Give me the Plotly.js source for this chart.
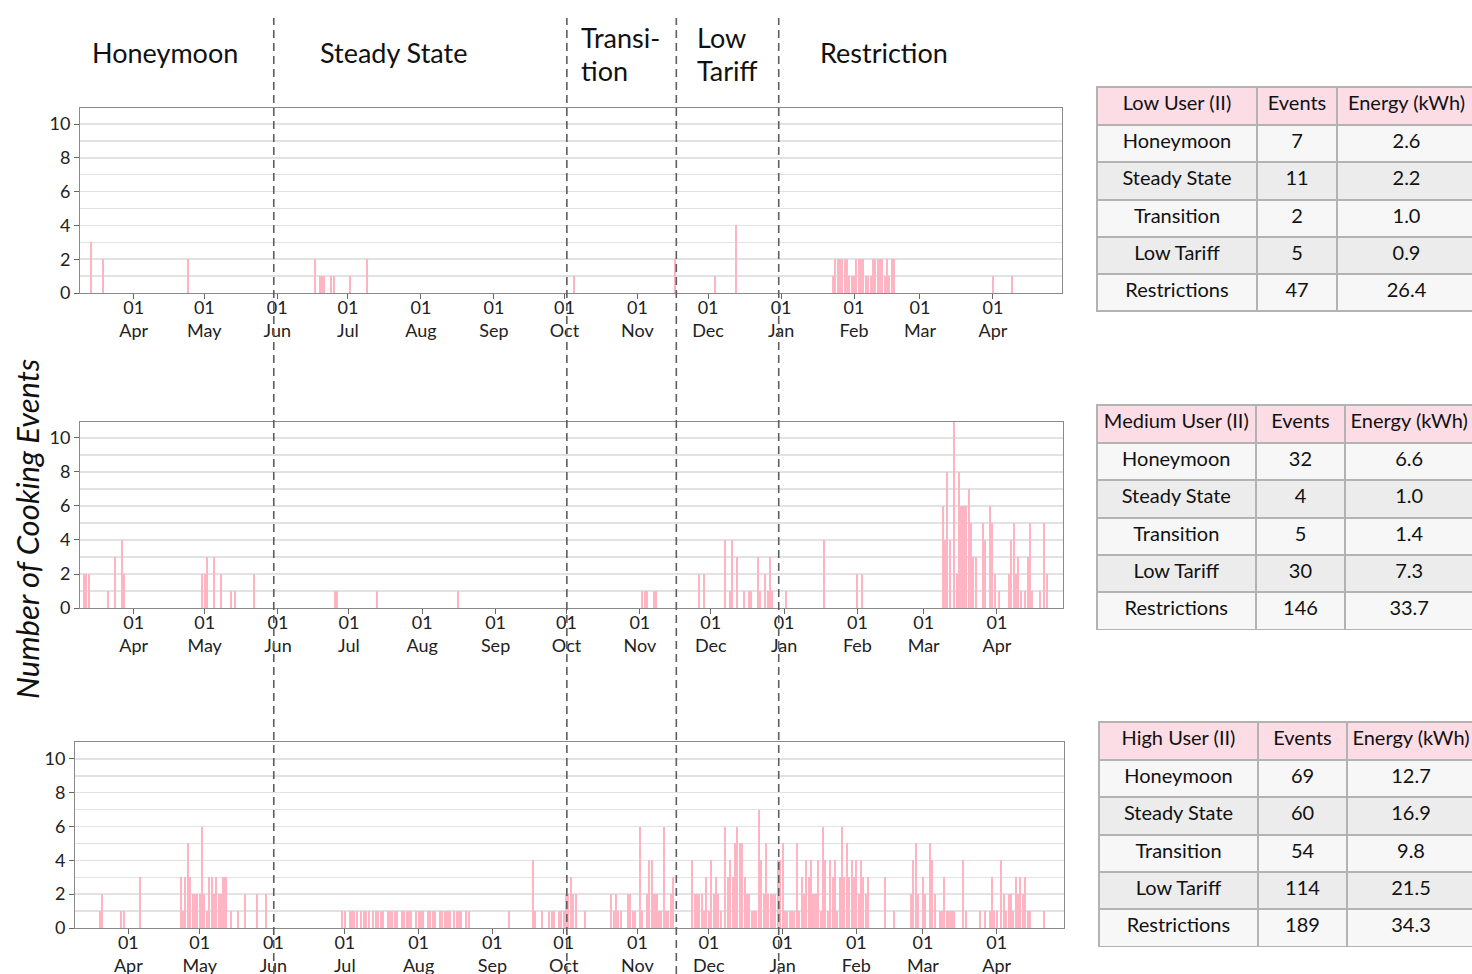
<!DOCTYPE html>
<html>
<head>
<meta charset="utf-8">
<script src="https://cdn.plot.ly/plotly-3.0.1.min.js"></script>
<style>html,body{margin:0;padding:0;background:#fff;overflow:hidden;}#wrap{width:1472px;height:974px;overflow:hidden;position:relative;}</style>
</head>
<body>
<div id="wrap"><div id="chart"></div></div>
<script>
// ---------- Table data ----------
const phases = ['Honeymoon', 'Steady State', 'Transition', 'Low Tariff', 'Restrictions'];
const lowEvents = [7, 11, 2, 5, 47];
const lowEnergy = [2.6, 2.2, 1.0, 0.9, 26.4];
const medEvents = [32, 4, 5, 30, 146];
const medEnergy = [6.6, 1.0, 1.4, 7.3, 33.7];
const highEvents = [69, 60, 54, 114, 189];
const highEnergy = [12.7, 16.9, 9.8, 21.5, 34.3];
const tableHeaders = [['Low User (II)', 'Events', 'Energy (kWh)'],
                      ['Medium User (II)', 'Events', 'Energy (kWh)'],
                      ['High User (II)', 'Events', 'Energy (kWh)']];

// ---------- Phase annotations ----------
const phaseTitles = ['Honeymoon', 'Steady State', 'Transi-<br>tion', 'Low<br>Tariff', 'Restriction'];
const phaseBoundaries = ['2022-05-30 12:00', '2022-10-02', '2022-11-17 12:00', '2022-12-31'];
const yTitle = 'Number of Cooking Events';

// ---------- Daily cooking events (days with events only) ----------
const lowDates = ['2022-03-14','2022-03-19','2022-04-24','2022-06-17','2022-06-19','2022-06-20','2022-06-21','2022-06-24','2022-06-25','2022-07-02','2022-07-09',
  '2022-10-05','2022-11-17','2022-12-04','2022-12-13',
  '2023-01-23','2023-01-24','2023-01-25','2023-01-26','2023-01-27','2023-01-28','2023-01-29','2023-01-30','2023-01-31',
  '2023-02-01','2023-02-02','2023-02-03','2023-02-04','2023-02-05','2023-02-06','2023-02-07','2023-02-08','2023-02-09',
  '2023-02-10','2023-02-11','2023-02-12','2023-02-13','2023-02-14','2023-02-15','2023-02-16','2023-02-17','2023-02-18',
  '2023-04-01','2023-04-09'];
const lowCounts = [3,2,2,2,1,1,1,1,1,1,2,
  1,2,1,4,
  1,2,2,2,2,2,2,1,1,
  1,2,2,2,2,1,1,1,2,
  2,2,2,2,1,2,1,2,2,
  1,1];

const medDates = ['2022-03-11','2022-03-12','2022-03-13','2022-03-21','2022-03-24','2022-03-27','2022-03-28','2022-04-30','2022-05-01','2022-05-02','2022-05-05','2022-05-08','2022-05-12','2022-05-14','2022-05-22',
  '2022-06-25','2022-06-26','2022-07-13','2022-08-16',
  '2022-11-02','2022-11-03','2022-11-04','2022-11-07','2022-11-08',
  '2022-11-26','2022-11-28','2022-12-07','2022-12-09','2022-12-10','2022-12-12','2022-12-15','2022-12-17','2022-12-18','2022-12-21','2022-12-22','2022-12-24','2022-12-25','2022-12-26','2022-12-27',
  '2023-01-02','2023-01-18','2023-02-01','2023-02-03',
  '2023-03-09','2023-03-10','2023-03-11','2023-03-12','2023-03-14','2023-03-15','2023-03-16','2023-03-17','2023-03-18','2023-03-19','2023-03-20','2023-03-21','2023-03-22','2023-03-23',
  '2023-03-26','2023-03-27','2023-03-29','2023-03-30','2023-03-31','2023-04-02',
  '2023-04-06','2023-04-07','2023-04-08','2023-04-09','2023-04-10','2023-04-11','2023-04-13','2023-04-14','2023-04-15','2023-04-16','2023-04-19','2023-04-21','2023-04-22'];
const medCounts = [2,2,2,1,3,4,2,2,2,3,3,2,1,1,2,
  1,1,1,1,
  1,1,1,1,1,
  2,2,4,1,4,3,1,1,1,3,1,2,1,3,1,
  1,4,2,2,
  6,4,8,4,11,2,8,6,6,6,7,5,3,3,
  5,4,6,5,2,1,
  2,4,5,2,3,1,1,3,5,1,1,5,2];

const highDates = ['2022-03-20','2022-03-21','2022-03-29','2022-03-30','2022-04-06',
  '2022-04-23','2022-04-24','2022-04-25','2022-04-26','2022-04-27','2022-04-28','2022-04-29','2022-04-30','2022-05-01','2022-05-02',
  '2022-05-03','2022-05-04','2022-05-05','2022-05-06','2022-05-07','2022-05-08','2022-05-09','2022-05-10','2022-05-11','2022-05-12',
  '2022-05-14','2022-05-17','2022-05-20','2022-05-25','2022-05-29',
  '2022-06-30','2022-07-01','2022-07-03','2022-07-04','2022-07-05','2022-07-06','2022-07-08','2022-07-09','2022-07-10','2022-07-11',
  '2022-07-13','2022-07-14','2022-07-15','2022-07-16','2022-07-17','2022-07-19','2022-07-20','2022-07-21','2022-07-22','2022-07-23',
  '2022-07-25','2022-07-26','2022-07-27','2022-07-28','2022-07-29','2022-07-31','2022-08-01','2022-08-02','2022-08-03',
  '2022-08-05','2022-08-06','2022-08-07','2022-08-08','2022-08-10','2022-08-11','2022-08-12','2022-08-13','2022-08-14',
  '2022-08-16','2022-08-17','2022-08-18','2022-08-19','2022-08-21','2022-08-22',
  '2022-09-08','2022-09-18','2022-09-19','2022-09-22','2022-09-25','2022-09-26','2022-09-27','2022-09-29','2022-09-30',
  '2022-10-01','2022-10-02','2022-10-03','2022-10-04','2022-10-05','2022-10-06','2022-10-10',
  '2022-10-21','2022-10-22','2022-10-23','2022-10-24','2022-10-25','2022-10-28','2022-10-29','2022-10-30','2022-10-31',
  '2022-11-02','2022-11-03','2022-11-05','2022-11-06','2022-11-07','2022-11-08','2022-11-09','2022-11-10','2022-11-11',
  '2022-11-12','2022-11-13','2022-11-14','2022-11-15','2022-11-16',
  '2022-11-24','2022-11-25','2022-11-26','2022-11-27','2022-11-28','2022-11-29','2022-11-30',
  '2022-12-01','2022-12-02','2022-12-03','2022-12-04','2022-12-05','2022-12-06','2022-12-08','2022-12-09','2022-12-10',
  '2022-12-11','2022-12-12','2022-12-13','2022-12-14','2022-12-15','2022-12-16','2022-12-17','2022-12-18','2022-12-19',
  '2022-12-20','2022-12-21','2022-12-22','2022-12-23','2022-12-24','2022-12-25','2022-12-26','2022-12-27','2022-12-28',
  '2022-12-29','2022-12-30','2022-12-31',
  '2023-01-01','2023-01-02','2023-01-03','2023-01-04','2023-01-05','2023-01-06','2023-01-07','2023-01-08','2023-01-09',
  '2023-01-10','2023-01-11','2023-01-12','2023-01-13','2023-01-14','2023-01-15','2023-01-16','2023-01-17','2023-01-18',
  '2023-01-19','2023-01-20','2023-01-21','2023-01-22','2023-01-23','2023-01-24','2023-01-25','2023-01-26','2023-01-27',
  '2023-01-28','2023-01-29','2023-01-30','2023-01-31','2023-02-01','2023-02-02','2023-02-03','2023-02-04','2023-02-05',
  '2023-02-06','2023-02-13','2023-02-17','2023-02-24','2023-02-25','2023-02-26','2023-02-27',
  '2023-03-01','2023-03-02','2023-03-04','2023-03-05','2023-03-06','2023-03-08','2023-03-09','2023-03-10','2023-03-11',
  '2023-03-12','2023-03-13','2023-03-14','2023-03-18','2023-03-19','2023-03-25','2023-03-27','2023-03-29','2023-03-30',
  '2023-03-31','2023-04-01','2023-04-03','2023-04-04','2023-04-05','2023-04-06','2023-04-07','2023-04-08','2023-04-09',
  '2023-04-10','2023-04-11','2023-04-12','2023-04-13','2023-04-14','2023-04-15','2023-04-21'];
const highCounts = [1,2,1,1,3,
  3,1,3,5,3,2,2,2,2,6,
  2,1,3,3,2,3,2,2,3,3,
  1,1,2,2,2,
  1,1,1,1,1,1,1,1,1,1,
  1,1,1,1,1,1,1,1,1,1,
  1,1,1,1,1,1,1,1,1,
  1,1,1,1,1,1,1,1,1,
  1,1,1,1,1,1,
  1,4,1,1,1,1,1,1,1,
  1,2,2,3,2,2,1,
  2,1,2,1,1,2,2,1,1,
  6,1,2,4,4,2,2,1,1,
  6,1,1,2,3,
  4,2,2,2,2,1,3,
  1,4,2,3,2,1,6,3,4,
  3,5,6,5,5,3,2,2,1,
  1,1,7,4,2,5,2,2,2,
  2,4,4,
  5,1,1,1,1,1,5,1,3,
  2,4,3,4,2,2,4,1,6,
  4,1,4,3,4,1,3,6,3,
  5,3,4,3,4,2,4,3,2,
  3,3,1,2,4,5,2,
  3,2,5,4,2,1,1,3,1,
  1,1,1,4,1,1,1,1,3,
  1,1,4,2,1,2,2,1,3,
  2,3,2,3,1,1,1];

// ---------- Styling ----------
const FONT = 'Lato, "Noto Sans", sans-serif';
const BAR = '#ffb4c4';
const W = 1520, H = 974;   // drawn wider than the 1472px window so the tables run off the right edge
const px = v => v / W;
const py = v => 1 - v / H;
const DAY = 86400000;
const NB = s => s.replace(/ /g, '\u00a0');

function barTrace(x, y, xa, ya) {
  return {type: 'bar', x: x, y: y, xaxis: xa, yaxis: ya, width: DAY * 0.85,
    marker: {color: BAR, line: {width: 0}}, hoverinfo: 'x+y', showlegend: false};
}

function tableTrace(hdr, ev, en, dom, cw) {
  const rowFill = ['#f7f7f7', '#ececec', '#f7f7f7', '#ececec', '#f7f7f7'];
  return {type: 'table', domain: dom, columnwidth: cw,
    header: {values: hdr.map(h => [NB(h)]), align: 'center', height: 38,
      fill: {color: '#fcdde6'}, line: {color: '#b3b3b3', width: 2},
      font: {family: FONT, size: 20, color: '#111'}},
    cells: {values: [phases.map(NB), ev, en], align: 'center', height: 37.3,
      format: ['', '', '.1f'],
      fill: {color: [rowFill, rowFill, rowFill]}, line: {color: '#b3b3b3', width: 2},
      font: {family: FONT, size: 20, color: '#111'}}};
}

const data = [
  barTrace(lowDates, lowCounts, 'x', 'y'),
  barTrace(medDates, medCounts, 'x2', 'y2'),
  barTrace(highDates, highCounts, 'x3', 'y3'),
  tableTrace(tableHeaders[0], lowEvents, lowEnergy, {x: [px(1097), px(1476)], y: [py(313), py(87)]}, [160, 80, 139]),
  tableTrace(tableHeaders[1], medEvents, medEnergy, {x: [px(1097), px(1474)], y: [py(630), py(405)]}, [159, 90, 128]),
  tableTrace(tableHeaders[2], highEvents, highEnergy, {x: [px(1099), px(1475)], y: [py(948), py(722)]}, [159, 89, 128])
];

function xAxis(range, x0, x1, anchor) {
  return {type: 'date', range: range, domain: [px(x0), px(x1)], anchor: anchor,
    tick0: '2022-04-01', dtick: 'M1', tickformat: '%d<br>%b',
    ticks: 'outside', ticklen: 5, tickcolor: '#666', tickwidth: 1, ticklabelstandoff: -7,
    showgrid: false, zeroline: false, showline: true, mirror: true, linecolor: '#8a8a8a', linewidth: 1,
    tickfont: {family: FONT, size: 18, color: '#222'}, fixedrange: true};
}
function yAxis(top, y0, y1, anchor) {
  return {range: [0, top], domain: [py(y0), py(y1)], anchor: anchor,
    tick0: 0, dtick: 2, ticks: 'outside', ticklen: 5, tickcolor: '#666',
    showgrid: true, gridcolor: '#e2e2e2', gridwidth: 1.5,
    minor: {dtick: 1, showgrid: true, gridcolor: '#e2e2e2', gridwidth: 1.5},
    zeroline: false, showline: true, mirror: true, linecolor: '#8a8a8a', linewidth: 1,
    tickfont: {family: FONT, size: 18, color: '#222'}, fixedrange: true};
}

const shapes = phaseBoundaries.map(d => ({type: 'line', xref: 'x', yref: 'paper',
  x0: d, x1: d, y0: 0, y1: py(18), line: {color: '#5e5e5e', width: 1.6, dash: '8px,5px'}, layer: 'above'}));

const titlePos = [[165, 'center'], [393, 'center'], [579, 'left'], [695, 'left'], [884, 'center']];
const annotations = [];
phaseTitles.forEach((t, i) => {
  const lines = t.split('<br>');
  lines.forEach((ln, j) => {
    const yc = lines.length === 1 ? 52 : 38 + 32 * j;
    annotations.push({text: ln, xref: 'paper', yref: 'paper',
      x: px(titlePos[i][0]), y: py(yc), xanchor: titlePos[i][1], yanchor: 'middle',
      showarrow: false, font: {family: FONT, size: 27, color: '#111'}});
  });
});
annotations.push({text: yTitle, xref: 'paper', yref: 'paper', x: px(27), y: py(529),
  xanchor: 'center', yanchor: 'middle', textangle: -90, showarrow: false,
  font: {family: FONT, size: 31, color: '#111', style: 'italic'}});

const layout = {
  width: W, height: H, margin: {l: 0, r: 0, t: 0, b: 0},
  paper_bgcolor: '#fff', plot_bgcolor: '#fff', showlegend: false, bargap: 0,
  xaxis: xAxis(['2022-03-09 04:30', '2023-04-30 05:00'], 80, 1061.7, 'y'),
  yaxis: yAxis(10.95, 293, 108, 'x'),
  xaxis2: xAxis(['2022-03-09 07:00', '2023-04-28 22:00'], 80, 1063, 'y2'),
  yaxis2: yAxis(10.94, 608, 422, 'x2'),
  xaxis3: xAxis(['2022-03-09 14:00', '2023-04-29 07:00'], 75, 1064, 'y3'),
  yaxis3: yAxis(11.0, 928, 742, 'x3'),
  shapes: shapes, annotations: annotations
};

Plotly.newPlot('chart', data, layout, {displayModeBar: false, staticPlot: true});
</script>
</body>
</html>
